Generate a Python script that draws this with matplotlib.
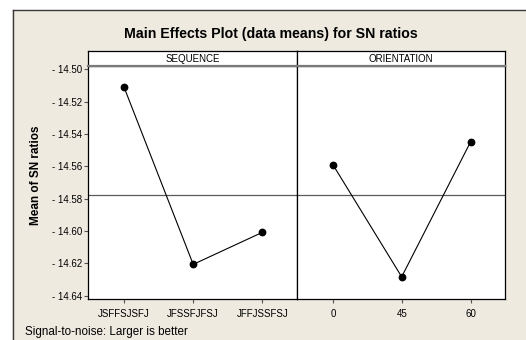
import matplotlib
matplotlib.use("Agg")
import matplotlib.pyplot as plt
from matplotlib.patches import Rectangle

# Main-effects means of the S/N ratios for each factor level
sequence_levels = ["JSFFSJSFJ", "JFSSFJFSJ", "JFFJSSFSJ"]
sequence_means = [-14.511, -14.6206, -14.6008]
orientation_levels = ["0", "45", "60"]
orientation_means = [-14.5589, -14.6283, -14.5449]
grand_mean = -14.5775
y_ticks = [-14.50, -14.52, -14.54, -14.56, -14.58, -14.60, -14.62, -14.64]
panel_titles = ["SEQUENCE", "ORIENTATION"]

W, H = 526, 340
BG = "#EEEAE0"
plt.rcParams["font.family"] = ["Liberation Sans", "DejaVu Sans"]

fig = plt.figure(figsize=(W / 100, H / 100), dpi=100)
fig.patch.set_facecolor("white")


def fx(px):
    return px / W


def fy(py):
    return 1 - py / H


# beige panel with border on its top and left edges
fig.patches.append(Rectangle((fx(12), 0), 1 - fx(12), fy(9.5), transform=fig.transFigure,
                             facecolor=BG, edgecolor="none", zorder=-2))
fig.lines.append(plt.Line2D([fx(12.5), fx(12.5)], [0, fy(9.5)], transform=fig.transFigure,
                            color="#3a3a3a", lw=1.0, zorder=-1))
fig.lines.append(plt.Line2D([fx(12.5), 1], [fy(9.5), fy(9.5)], transform=fig.transFigure,
                            color="#3a3a3a", lw=1.0, zorder=-1))

left, mid, right = 88, 297, 505
top_strip, top_ax, bottom = 51, 66, 299

ax1 = fig.add_axes([fx(left), fy(bottom), fx(mid - left), fy(top_ax) - fy(bottom)])
ax2 = fig.add_axes([fx(mid), fy(bottom), fx(right - mid), fy(top_ax) - fy(bottom)], sharey=ax1)

for ax, levels, means in [(ax1, sequence_levels, sequence_means),
                          (ax2, orientation_levels, orientation_means)]:
    xs = list(range(len(levels)))
    ax.axhline(grand_mean, color="#5a5a5a", lw=0.9, zorder=1)
    ax.plot(xs, means, color="black", lw=0.8, marker="o", markersize=4.6, zorder=3)
    ax.set_xlim(-0.52, 2.5)
    ax.set_xticks(xs)
    ax.set_xticklabels(levels, fontsize=7)
    ax.tick_params(axis="x", length=3, width=0.8, color="#555555", pad=4)
    for s in ax.spines.values():
        s.set_color("black")
        s.set_linewidth(0.9)
    ax.set_facecolor("white")

ax1.set_ylim(-14.642, -14.498)
ax1.set_yticks(y_ticks)
ax1.set_yticklabels([f"- {abs(v):.2f}" for v in y_ticks], fontsize=7)
ax1.tick_params(axis="y", length=3, width=0.8, color="#555555", pad=1)
ax2.tick_params(axis="y", left=False, labelleft=False)
ax1.set_ylabel("Mean of SN ratios", fontsize=8.5, fontweight="bold")
ax1.yaxis.set_label_coords(-0.222, (bottom - 175) / (bottom - top_ax))

# panel header strips
for l, r, name in [(left, mid, panel_titles[0]), (mid, right, panel_titles[1])]:
    sax = fig.add_axes([fx(l), fy(top_ax), fx(r - l), fy(top_strip) - fy(top_ax)])
    sax.set_xticks([])
    sax.set_yticks([])
    sax.set_facecolor("white")
    for s in sax.spines.values():
        s.set_color("black")
        s.set_linewidth(0.9)
    sax.spines["bottom"].set_color("#7a7a7a")
    sax.spines["bottom"].set_linewidth(1.6)
    sax.text(0.5, 0.48, name, ha="center", va="center", fontsize=7, transform=sax.transAxes)

fig.text(fx(271), fy(34), "Main Effects Plot (data means) for SN ratios", ha="center",
         va="center", fontsize=10.2, fontweight="bold")
fig.text(fx(25), fy(331.5), "Signal-to-noise: Larger is better", ha="left", va="center",
         fontsize=8.4)

fig.savefig("out.png", dpi=100, facecolor=fig.get_facecolor())
